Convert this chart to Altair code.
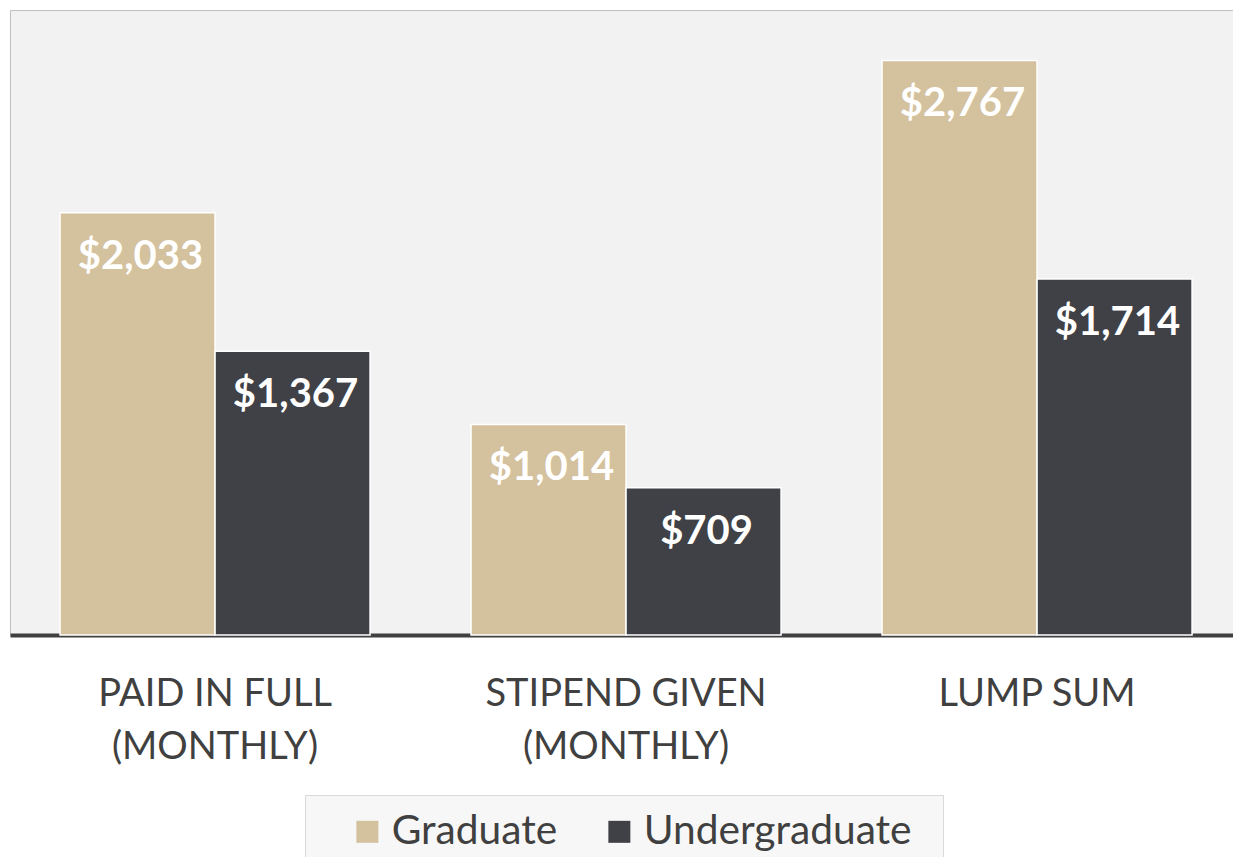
import altair as alt
import pandas as pd

categories = ["PAID IN FULL|(MONTHLY)", "STIPEND GIVEN|(MONTHLY)", "LUMP SUM"]
series = ["Graduate", "Undergraduate"]
graduate = [2033, 1014, 2767]
undergraduate = [1367, 709, 1714]
colors = ["#d4c19e", "#3f4146"]

rows = []
for c, g, u in zip(categories, graduate, undergraduate):
    rows.append({"category": c, "series": "Graduate", "value": g})
    rows.append({"category": c, "series": "Undergraduate", "value": u})
df = pd.DataFrame(rows)

FONT = "Lato"

x_enc = alt.X(
    "category:N",
    sort=categories,
    title=None,
    scale=alt.Scale(paddingInner=0.2457, paddingOuter=0.1107, align=0.55),
    axis=alt.Axis(
        labelAngle=0,
        labelExpr="split(datum.label, '|')",
        labelFont=FONT,
        labelFontSize=38,
        labelColor="#404040",
        labelLineHeight=53,
        labelPadding=40,
        ticks=False,
        tickSize=0,
        domainColor="#404040",
        domainWidth=4,
        grid=False,
        labelLimit=0,
    ),
)
y_enc = alt.Y(
    "value:Q",
    scale=alt.Scale(domain=[0, 3010], nice=False),
    axis=None,
)
xoff = alt.XOffset("series:N", sort=series, scale=alt.Scale(paddingInner=0, paddingOuter=0))

base = alt.Chart(df)

bars = base.mark_bar(stroke="white", strokeWidth=1.5).encode(
    x=x_enc,
    xOffset=xoff,
    y=y_enc,
    color=alt.Color(
        "series:N",
        sort=series,
        scale=alt.Scale(domain=series, range=colors),
        legend=alt.Legend(
            title="\u00a0",
            titleOrient="right",
            titleFontSize=1,
            titlePadding=15,
            orient="none",
            legendX=295,
            legendY=785,
            direction="horizontal",
            fillColor="#f7f7f7",
            strokeColor="#d9d9d9",
            padding=16,
            symbolType="square",
            symbolSize=484,
            symbolStrokeWidth=0,
            symbolOpacity=1,
            symbolOffset=26,
            labelFont=FONT,
            labelFontSize=40.7,
            labelColor="#404040",
            labelOffset=4,
            columnPadding=15,
            labelLimit=0,
        ),
    ),
)

labels = base.transform_calculate(
    label="'$' + format(datum.value, ',')"
).mark_text(
    font=FONT,
    fontWeight="bold",
    fontSize=40,
    color="white",
    baseline="alphabetic",
    align="center",
    dy=56,
    dx=3,
).encode(
    x=alt.X("category:N", sort=categories),
    xOffset=xoff,
    y=alt.Y("value:Q"),
    text="label:N",
)

chart = (
    alt.layer(bars, labels)
    .properties(
        width=1223,
        height=625,
        autosize=alt.AutoSizeParams(type="none"),
        padding={"left": 2, "top": 2, "right": 0, "bottom": 222},
    )
    .configure_view(stroke="#bfbfbf", fill="#f2f2f2", strokeWidth=1)
)

chart.save("out.html", embed_options={"renderer": "svg", "actions": False})
